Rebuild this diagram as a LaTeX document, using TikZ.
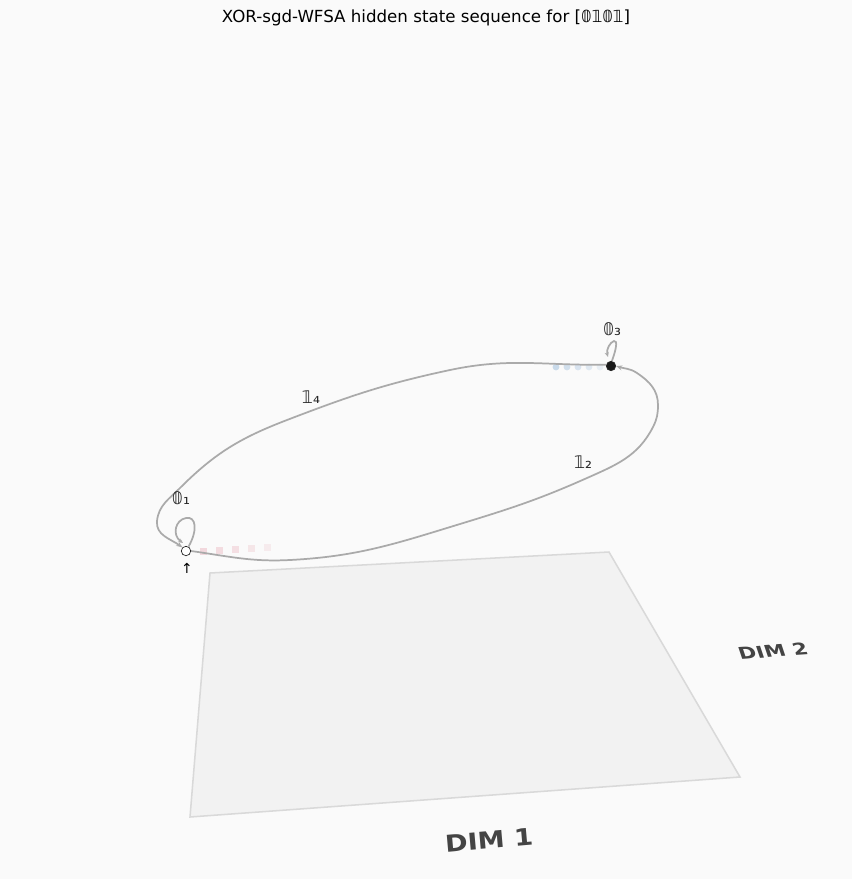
\documentclass[tikz,border=0pt]{standalone}
\usepackage{fontspec}
\setmainfont{DejaVu Sans}
\usetikzlibrary{arrows.meta}
\definecolor{bgc}{HTML}{FAFAFA}
\definecolor{edgec}{HTML}{AAAAAA}
\definecolor{planec}{HTML}{F2F2F2}
\definecolor{planeline}{HTML}{D9D9D9}
\definecolor{dimc}{HTML}{444444}
\definecolor{trailr}{HTML}{EBB8C1}
\definecolor{trailb}{HTML}{A9C5E0}
\begin{document}
\begin{tikzpicture}[x=0.72pt,y=-0.72pt,
    trans/.style={draw=edgec,line width=1.25pt,-{Stealth[length=4.5pt,width=3.5pt]}},
    selfloop/.style={draw=edgec,line width=1.25pt,-{Stealth[length=3.5pt,width=3pt]}},
    lbl/.style={font=\fontsize{12.5}{12.5}\selectfont,text=black!85},
    dimlbl/.style={font=\fontsize{14}{14}\selectfont\bfseries,text=dimc},
    state/.style={circle,draw=black!85,line width=0.5pt,inner sep=0pt,minimum size=6.8pt}]
    \fill[bgc] (0,0) rectangle (852,879);
    \useasboundingbox (0,0) rectangle (852,879);
    \node[font=\fontsize{12}{12}\selectfont] (title) at (426,18) {XOR-sgd-WFSA hidden state sequence for [𝟘𝟙𝟘𝟙]};
    % plane
    \filldraw[fill=planec,draw=planeline,line width=1.1pt] (210,573) -- (609,552) -- (740,777) -- (190,817) -- cycle;
    \node[dimlbl,rotate=5,xscale=1.4,yscale=1.2] (dim1) at (489,840) {DIM 1};
    \node[dimlbl,rotate=4,xscale=1.1,yscale=0.85,xslant=-0.2] (dim2) at (773,651) {DIM 2};
    % trails
    \foreach \x/\o in {203/0.5,219/0.45,235/0.4,251/0.3,267/0.22}
        \fill[trailr,opacity=\o] (\x-3.5,551-\x/16+203/16-3.5) rectangle +(7,7);
    \foreach \x/\o in {556/0.6,567/0.5,578/0.42,589/0.32,600/0.22}
        \fill[trailb,opacity=\o] (\x,367) circle (3.4);
    % states
    \node[state,fill=white] (q0) at (186,551) {};
    \node[state,fill=black!90] (q1) at (611,366) {};
    \node[font=\fontsize{10}{10}\selectfont] (start) at (187,568) {↑};
    % transitions
    \draw[selfloop] (q0.60) .. controls (198,530) and (196,516) .. (186,518) .. controls (175,520) and (172,535) .. (183,543);
    \draw[trans] (q0.east) to[out=-8,in=183] (290,560) to[out=3,in=197] (460,524)
        to[out=17,in=204] (587,478) to[out=24,in=243] (653,427) to[out=63,in=270] (658,405)
        to[out=90,in=326] (637,373) to[out=146,in=342] (q1.east);
    \draw[selfloop] (q1.80) .. controls (616,350) and (618,340) .. (614,341) .. controls (610,342) and (606,350) .. (608,357);
    \draw[trans] (q1.165) to[out=181,in=12] (450,370) to[out=192,in=21] (287,420)
        to[out=201,in=45] (180,488) to[out=225,in=84] (157,521) to[out=264,in=144] (q0.135);
    % labels
    \node[lbl] (l1) at (181,498) {𝟘₁};
    \node[lbl] (l2) at (583,462) {𝟙₂};
    \node[lbl] (l3) at (612,329) {𝟘₃};
    \node[lbl] (l4) at (311,397) {𝟙₄};
\end{tikzpicture}
\end{document}
